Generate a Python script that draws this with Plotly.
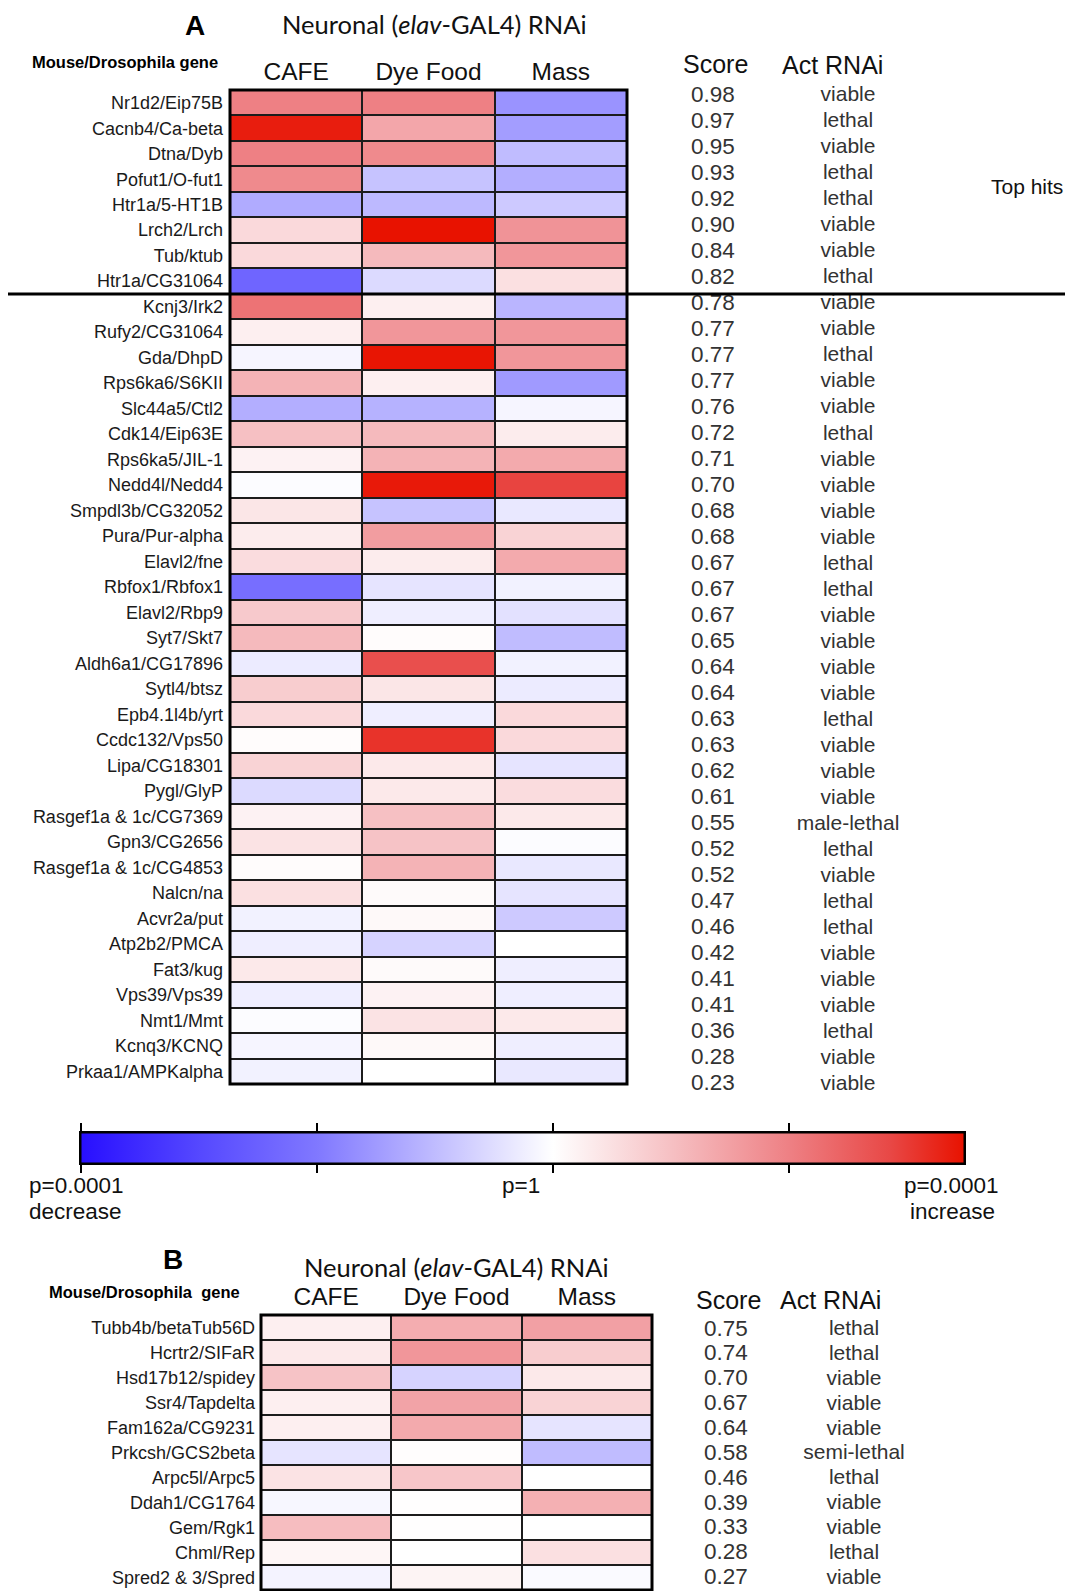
import plotly.graph_objects as go

# page coordinates of the reference (the html body adds an 8 px margin)
PAGE_W, PAGE_H = 1073, 1591
OFF = 8
W, H = PAGE_W - OFF, PAGE_H - OFF
ARIAL = "Liberation Sans, Arial, sans-serif"
TITLEF = "Lato, Open Sans, sans-serif"

# ---------------- data: panel A ----------------
genes_a = ["Nr1d2/Eip75B", "Cacnb4/Ca-beta", "Dtna/Dyb", "Pofut1/O-fut1", "Htr1a/5-HT1B",
           "Lrch2/Lrch", "Tub/ktub", "Htr1a/CG31064", "Kcnj3/Irk2", "Rufy2/CG31064",
           "Gda/DhpD", "Rps6ka6/S6KII", "Slc44a5/Ctl2", "Cdk14/Eip63E", "Rps6ka5/JIL-1",
           "Nedd4l/Nedd4", "Smpdl3b/CG32052", "Pura/Pur-alpha", "Elavl2/fne", "Rbfox1/Rbfox1",
           "Elavl2/Rbp9", "Syt7/Skt7", "Aldh6a1/CG17896", "Sytl4/btsz", "Epb4.1l4b/yrt",
           "Ccdc132/Vps50", "Lipa/CG18301", "Pygl/GlyP", "Rasgef1a & 1c/CG7369", "Gpn3/CG2656",
           "Rasgef1a & 1c/CG4853", "Nalcn/na", "Acvr2a/put", "Atp2b2/PMCA", "Fat3/kug",
           "Vps39/Vps39", "Nmt1/Mmt", "Kcnq3/KCNQ", "Prkaa1/AMPKalpha"]
cafe_a = [2.0, 3.35, 2.0, 1.85, -1.25, 0.6, 0.6, -2.4, 2.2, 0.25,
          -0.15, 1.2, -1.2, 1.0, 0.2, -0.05, 0.4, 0.3, 0.55, -2.2,
          0.85, 1.1, -0.3, 0.8, 0.6, 0.05, 0.7, -0.55, 0.2, 0.45,
          0.05, 0.5, -0.2, -0.25, 0.35, -0.25, -0.05, -0.15, -0.2]
dye_a = [2.0, 1.4, 1.85, -0.9, -1.05, 3.48, 1.1, -0.55, 0.25, 1.65,
         3.45, 0.25, -1.15, 1.1, 1.2, 3.4, -0.9, 1.55, 0.3, -0.4,
         -0.25, 0.05, 2.75, 0.4, -0.25, 3.1, 0.35, 0.35, 1.0, 0.95,
         1.2, 0.08, 0.1, -0.65, 0.08, 0.2, 0.45, 0.1, 0.0]
mass_a = [-1.6, -1.45, -1.0, -1.2, -0.8, 1.7, 1.65, 0.5, -1.1, 1.65,
          1.65, -1.5, -0.15, 0.3, 1.35, 2.9, -0.35, 0.7, 1.35, -0.2,
          -0.45, -1.0, -0.2, -0.3, 0.6, 0.6, -0.4, 0.55, 0.35, -0.05,
          -0.35, -0.4, -0.8, 0.0, -0.25, -0.25, 0.35, -0.25, -0.35]
score_a = [0.98, 0.97, 0.95, 0.93, 0.92, 0.90, 0.84, 0.82, 0.78, 0.77,
           0.77, 0.77, 0.76, 0.72, 0.71, 0.70, 0.68, 0.68, 0.67, 0.67,
           0.67, 0.65, 0.64, 0.64, 0.63, 0.63, 0.62, 0.61, 0.55, 0.52,
           0.52, 0.47, 0.46, 0.42, 0.41, 0.41, 0.36, 0.28, 0.23]
act_a = ["viable", "lethal", "viable", "lethal", "lethal", "viable", "viable", "lethal",
         "viable", "viable", "lethal", "viable", "viable", "lethal", "viable", "viable",
         "viable", "viable", "lethal", "lethal", "viable", "viable", "viable", "viable",
         "lethal", "viable", "viable", "viable", "male-lethal", "lethal", "viable", "lethal",
         "lethal", "viable", "viable", "viable", "lethal", "viable", "viable"]
n_top_hits = 8

# ---------------- data: panel B ----------------
genes_b = ["Tubb4b/betaTub56D", "Hcrtr2/SIFaR", "Hsd17b12/spidey", "Ssr4/Tapdelta",
           "Fam162a/CG9231", "Prkcsh/GCS2beta", "Arpc5l/Arpc5", "Ddah1/CG1764",
           "Gem/Rgk1", "Chml/Rep", "Spred2 & 3/Spred"]
cafe_b = [0.25, 0.35, 0.95, 0.25, 0.25, -0.4, 0.45, -0.12, 1.05, 0.15, -0.18]
dye_b = [1.3, 1.65, -0.65, 1.45, 1.35, 0.03, 0.9, 0.02, 0.02, 0.0, 0.18]
mass_b = [1.5, 0.8, 0.35, 0.7, -0.4, -1.0, 0.0, 1.25, 0.0, 0.5, -0.08]
score_b = [0.75, 0.74, 0.70, 0.67, 0.64, 0.58, 0.46, 0.39, 0.33, 0.28, 0.27]
act_b = ["lethal", "lethal", "viable", "viable", "viable", "semi-lethal", "lethal",
         "viable", "viable", "lethal", "viable"]

assays = ["CAFE", "Dye Food", "Mass"]
text_cols = ["Score", "Act RNAi"]

# colour scale (signed significance units)
cmin, cmax = -4.0, 3.48
cbar_ticks = [-4, -2, 0, 2]
color_stops = [(-4.0, "rgb(40,15,255)"), (-3.0, "rgb(85,72,255)"), (-2.0, "rgb(128,120,255)"),
               (-1.0, "rgb(192,188,255)"), (0.0, "rgb(255,255,255)"), (1.0, "rgb(246,192,195)"),
               (2.0, "rgb(238,128,132)"), (2.85, "rgb(232,72,70)"), (3.48, "rgb(232,18,0)")]
colorscale = [[(v - cmin) / (cmax - cmin), c] for v, c in color_stops]


def fx(p):
    return (p - OFF) / W


def fy(p):
    return 1 - (p - OFF) / H


fig = go.Figure()

fig.add_trace(go.Heatmap(z=[list(r) for r in zip(cafe_a, dye_a, mass_a)], x=assays, y=genes_a,
                         coloraxis="coloraxis", xgap=2, ygap=2, xaxis="x", yaxis="y"))
fig.add_trace(go.Heatmap(z=[list(r) for r in zip(cafe_b, dye_b, mass_b)], x=assays, y=genes_b,
                         coloraxis="coloraxis", xgap=2, ygap=2, xaxis="x2", yaxis="y2"))

scorefont = dict(family=ARIAL, size=22.5, color="#333333")
actfont = dict(family=ARIAL, size=21, color="#333333")
fig.add_trace(go.Scatter(x=[text_cols[0]] * len(genes_a), y=genes_a, mode="text",
                         text=[f"{s:.2f}" for s in score_a], textfont=scorefont,
                         xaxis="x3", yaxis="y3"))
fig.add_trace(go.Scatter(x=[text_cols[1]] * len(genes_a), y=genes_a, mode="text",
                         text=act_a, textfont=actfont, xaxis="x3", yaxis="y3"))
fig.add_trace(go.Scatter(x=[text_cols[0]] * len(genes_b), y=genes_b, mode="text",
                         text=[f"{s:.2f}" for s in score_b], textfont=scorefont,
                         xaxis="x4", yaxis="y4"))
fig.add_trace(go.Scatter(x=[text_cols[1]] * len(genes_b), y=genes_b, mode="text",
                         text=act_b, textfont=actfont, xaxis="x4", yaxis="y4"))
fig.add_trace(go.Scatter(x=[], y=[], xaxis="x5", yaxis="y5", hoverinfo="skip"))

noax = dict(showgrid=False, zeroline=False, showline=False, ticks="")
hdrfont = dict(family=ARIAL, size=24.5, color="#111111")
rowfont = dict(family=ARIAL, size=18, color="#1a1a1a")

# text rows (their pitch differs a little from the heat-map rows)
rowh_a_txt = 26.02
top_a_txt = 96 - rowh_a_txt / 2
bot_a_txt = top_a_txt + rowh_a_txt * len(genes_a)
rowh_b_txt = 24.85
top_b_txt = 1330 - rowh_b_txt / 2
bottom_idx_b = -0.5 + (PAGE_H - top_b_txt) / rowh_b_txt

fig.update_layout(
    width=W, height=H, margin=dict(l=0, r=0, t=0, b=0, pad=0),
    paper_bgcolor="white", plot_bgcolor="rgba(0,0,0,0)", showlegend=False,
    font=dict(family=ARIAL, color="#222222"),
    xaxis=dict(domain=[fx(230), fx(627)], anchor="y", side="top", tickfont=hdrfont,
               ticklabelstandoff=4, **noax),
    yaxis=dict(domain=[fy(1084), fy(90)], anchor="x", autorange="reversed", tickfont=rowfont,
               ticklabelstandoff=6, **noax),
    xaxis2=dict(domain=[fx(261), fx(652)], anchor="y2", side="top", tickfont=hdrfont,
                ticklabelstandoff=4, **noax),
    yaxis2=dict(domain=[fy(1590), fy(1315)], anchor="x2", autorange="reversed", tickfont=rowfont,
                ticklabelstandoff=5, **noax),
    xaxis3=dict(domain=[fx(645.5), fx(915.5)], anchor="y3", range=[-0.5, 1.5], visible=False,
                type="category", categoryarray=text_cols),
    yaxis3=dict(domain=[fy(bot_a_txt), fy(top_a_txt)], anchor="x3",
                range=[len(genes_a) - 0.5, -0.5], visible=False,
                type="category", categoryarray=genes_a),
    xaxis4=dict(domain=[fx(662), fx(918)], anchor="y4", range=[-0.5, 1.5], visible=False,
                type="category", categoryarray=text_cols),
    yaxis4=dict(domain=[0, fy(top_b_txt)], anchor="x4", range=[bottom_idx_b, -0.5], visible=False,
                type="category", categoryarray=genes_b),
    xaxis5=dict(domain=[fx(81), fx(964)], anchor="y5", range=[cmin, cmax], showline=True,
                linewidth=2, linecolor="black", mirror="ticks", ticks="outside", ticklen=8,
                tickwidth=1.5, tickcolor="black", tickvals=cbar_ticks, showticklabels=False,
                showgrid=False, zeroline=False),
    yaxis5=dict(domain=[fy(1163), fy(1133)], anchor="x5", range=[0, 1], showline=True,
                linewidth=2, linecolor="black", mirror=True, ticks="", showticklabels=False,
                showgrid=False, zeroline=False),
    coloraxis=dict(colorscale=colorscale, cmin=cmin, cmax=cmax,
                   colorbar=dict(orientation="h", x=fx((81 + 964) / 2), xanchor="center",
                                 y=fy(1133), yanchor="top", len=883, lenmode="pixels",
                                 thickness=30, thicknessmode="pixels", outlinewidth=1,
                                 outlinecolor="black", ticks="", showticklabels=False,
                                 xpad=0, ypad=0)),
)

shapes = []
for xa, ya in (("x", "y"), ("x2", "y2")):
    shapes.append(dict(type="rect", xref=f"{xa} domain", yref=f"{ya} domain", x0=0, x1=1, y0=0, y1=1,
                       fillcolor="#1c1c1c", line=dict(width=0), layer="below"))
    shapes.append(dict(type="rect", xref=f"{xa} domain", yref=f"{ya} domain", x0=0, x1=1, y0=0, y1=1,
                       fillcolor="rgba(0,0,0,0)", line=dict(width=3, color="black"), layer="above"))
sep = 1 - n_top_hits / len(genes_a)
shapes.append(dict(type="line", xref="paper", yref="y domain", x0=fx(8), x1=fx(1068), y0=sep, y1=sep,
                   line=dict(width=3, color="black")))
fig.update_layout(shapes=shapes)


def ann(text, x, y, size, family=ARIAL, xanchor="center", color="#111111"):
    return dict(text=text, x=fx(x), y=fy(y), xref="paper", yref="paper",
                xanchor=xanchor, yanchor="middle", showarrow=False,
                font=dict(family=family, size=size, color=color))


title_txt = "Neuronal (<i>elav</i>-GAL4) RNAi"
annotations = [
    ann("<b>A</b>", 195, 25, 28, color="black"),
    ann(title_txt, 434, 24, 25.5, family=TITLEF),
    ann("<b>Mouse/Drosophila gene</b>", 125, 62, 16.5, color="black"),
    ann("Score", 715, 64, 25),
    ann("Act RNAi", 832, 65, 25),
    ann("Top hits", 1027, 187, 21),
    ann("p=0.0001", 27, 1185, 22.5, xanchor="left"),
    ann("decrease", 27, 1211, 22.5, xanchor="left"),
    ann("p=1", 521, 1185, 22.5),
    ann("p=0.0001", 1000, 1185, 22.5, xanchor="right"),
    ann("increase", 997, 1211, 22.5, xanchor="right"),
    ann("<b>B</b>", 173, 1259, 28, color="black"),
    ann(title_txt, 456, 1267, 25.5, family=TITLEF),
    ann("<b>Mouse/Drosophila&nbsp; gene</b>", 144, 1292, 16.5, color="black"),
    ann("Score", 728, 1300, 25),
    ann("Act RNAi", 830, 1300, 25),
]
fig.update_layout(annotations=annotations)

fig.write_html("out.html")
